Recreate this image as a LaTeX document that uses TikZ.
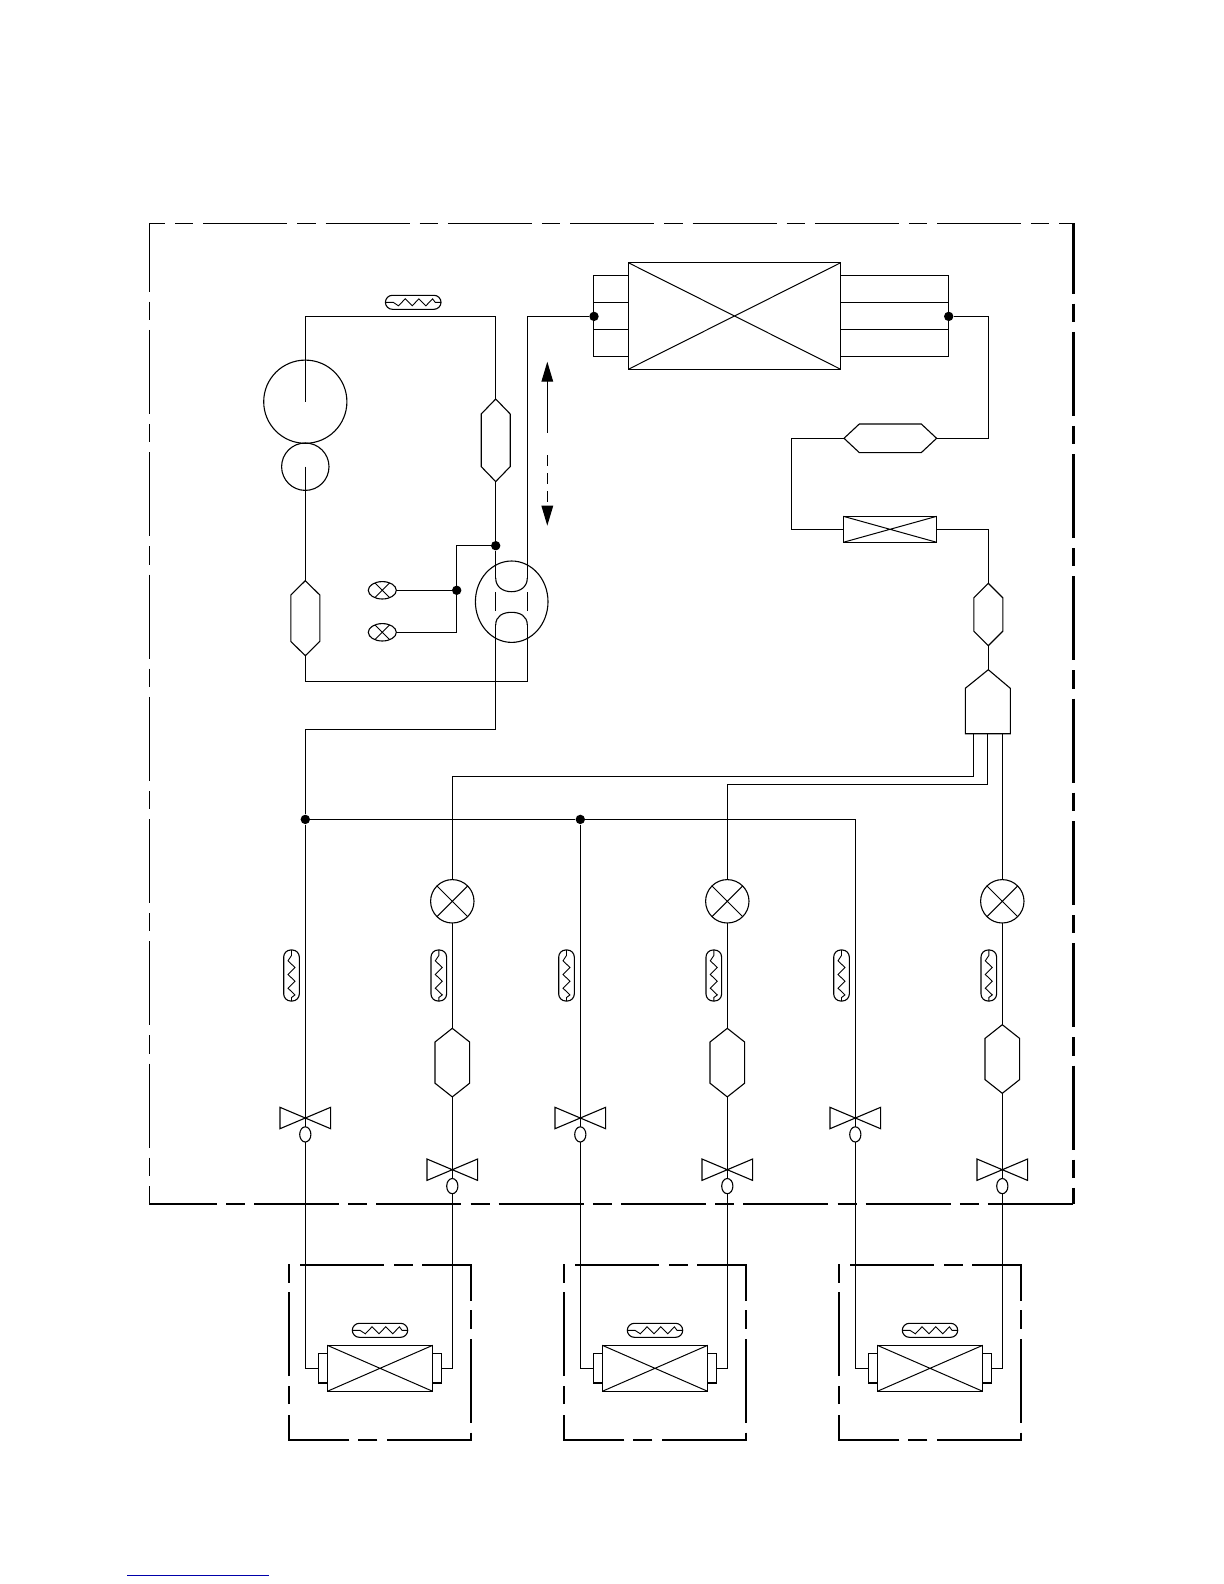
\documentclass[tikz,border=0pt]{standalone}
\usetikzlibrary{arrows.meta,shapes.geometric}
\tikzset{
  pipe/.style={line width=.55pt,line join=miter},
  frm/.style={line width=#1,dash pattern=on 42pt off 5pt on 9.15pt off 5pt},
  idbox/.style={line width=.85pt},
  dot/.style={circle,fill=black,inner sep=0pt,minimum size=4.7pt},
  roundc/.style={draw,circle,pipe,inner sep=0pt,outer sep=0pt,minimum size=#1},
  ell/.style 2 args={draw,ellipse,pipe,inner sep=0pt,outer sep=0pt,minimum width=#1,minimum height=#2},
  box/.style 2 args={draw,rectangle,pipe,inner sep=0pt,outer sep=0pt,minimum width=#1,minimum height=#2},
  pics/hexa/.style n args={3}{code={
    \draw[pipe] (0,-#1) coordinate (-top) -- (#3,-#1+#2) -- (#3,#1-#2) -- (0,#1) coordinate (-bot)
      -- (-#3,#1-#2) -- (-#3,-#1+#2) -- cycle;
  }},
  pics/sensor/.style 2 args={code={
    \draw[pipe,rounded corners=3.5pt] (-#1,-#2) rectangle (#1,#2);
    \draw[line width=.45pt] (-#1,0) -- (-20,0) -- (-14.7,3.5) -- (-8,-3.5) -- (-1,3.5) -- (5.7,-3.5)
      -- (12.7,3.5) -- (19.4,-3.5) -- (22,0) -- (#1,0);
  }},
  pics/stopvalve/.style={code={
    \draw[pipe] (0,0) -- (-25.3,-10.7) -- (-25.3,10.7) -- cycle;
    \draw[pipe] (0,0) -- (25.3,-10.7) -- (25.3,10.7) -- cycle;
    \node[ell={5.6pt}{7.6pt}] (-e) at (0,16.4) {};
  }},
}
\begin{document}
\begin{tikzpicture}[x=.5pt,y=-.5pt]
\useasboundingbox (0,0) rectangle (1224,1584);

% outdoor frame
\coordinate (fTL) at (149.3,223.3);
\coordinate (fTR) at (1073.5,223.3);
\coordinate (fBL) at (149.3,1204);
\coordinate (fBR) at (1073.5,1204);
\draw[frm=.65pt,dash phase=34.15pt] (fTL) -- (fTR);
\draw[frm=.65pt,dash phase=7.85pt] (fTL) -- (fBL);
\draw[frm=1.05pt,dash phase=6.9pt] (fTR) -- (fBR);
\draw[line width=1.05pt,dash pattern=on 42.5pt off 4.65pt on 9.5pt off 4.5pt,dash phase=8.8pt] (fBL) -- (fBR);

% compressor
\node[roundc=41.6pt] (cb) at (305.3,401.7) {};
\node[roundc=23.7pt] (cs) at (305.3,466.7) {};
\pic (hl) at (305.3,618.2) {hexa={37.5}{14.3}{14.5}};
\pic (hr) at (495.7,440.3) {hexa={41.3}{15}{14.5}};
\pic at (413.2,302.3) {sensor={27.8}{7}};
\coordinate (tl) at (305.3,316.4);
\coordinate (tr) at (495.7,316.4);
\draw[pipe] (cb.center) -- (tl) -- (tr) -- (hr-top);
\draw[pipe] (cs.center) -- (hl-top);

% four-way valve
\node[ell={36.3pt}{40.7pt}] (fw) at (511.7,601.7) {};
\coordinate (fa) at (495.7,578);
\coordinate (fb) at (527.3,578);
\coordinate (fc) at (495.7,625);
\coordinate (fd) at (527.3,625);
\draw[pipe] (fa) .. controls (495.7,587) and (503,591.7) .. (511.5,591.7) .. controls (520,591.7) and (527.3,587) .. (fb);
\draw[pipe] (fc) .. controls (495.7,616) and (503,612.3) .. (511.5,612.3) .. controls (520,612.3) and (527.3,616) .. (fd);
\draw[pipe] (495.7,592.3) -- (495.7,610.7) (527.3,592.3) -- (527.3,610.7);

\node[dot] (ja) at (495.7,545.7) {};
\node[dot] (jb) at (456.7,590.3) {};
\coordinate (jc) at (456.7,545.7);
\coordinate (jd) at (456.7,632.3);
\node[ell={14pt}{8.7pt}] (s1) at (382.3,590.3) {};
\node[ell={14pt}{8.7pt}] (s2) at (382.3,632.3) {};
\draw[line width=.45pt] (s1.45) -- (s1.225) (s1.135) -- (s1.315) (s2.45) -- (s2.225) (s2.135) -- (s2.315);
\draw[pipe] (hr-bot) -- (ja) -- (fa);
\draw[pipe] (ja) -- (jc) -- (jd) -- (s2);
\draw[pipe] (jb) -- (s1);

\coordinate (ba) at (305.3,681.3);
\coordinate (bb) at (527.3,681.3);
\draw[pipe] (hl-bot) -- (ba) -- (bb) -- (fd);
\coordinate (ga) at (495.7,729.3);
\coordinate (gb) at (305.3,729.3);
\node[dot] (g1) at (305.3,819.4) {};
\node[dot] (g2) at (580.3,819.4) {};
\coordinate (g3) at (855.3,819.4);
\draw[pipe] (fc) -- (ga) -- (gb) -- (g1) -- (g2) -- (g3);

% condenser
\node[box={106.2pt}{53.3pt}] (cond) at (734.5,316) {};
\draw[line width=.5pt] (cond.north west) -- (cond.south east) (cond.south west) -- (cond.north east);
\node[dot] (cl) at (594,316.4) {};
\node[dot] (cr) at (948.7,316.4) {};
\coordinate (up) at (527.3,316.4);
\draw[pipe] (fb) -- (up) -- (cl);
\draw[pipe] (628.3,275.3) -- (593.7,275.3) -- (593.7,356.3) -- (628.3,356.3);
\draw[pipe] (593.7,302.3) -- (628.3,302.3) (593.7,329.3) -- (628.3,329.3);
\draw[pipe] (840.7,275.3) -- (948.7,275.3) -- (948.7,356.3) -- (840.7,356.3);
\draw[pipe] (840.7,302.3) -- (948.7,302.3) (840.7,329.3) -- (948.7,329.3);

% liquid line
\pic[rotate=90] (hh) at (890.3,438.3) {hexa={46.3}{15.3}{14.3}};
\node[box={46.7pt}{13pt}] (filt) at (890,529.3) {};
\draw[line width=.5pt] (filt.north west) -- (filt.south east) (filt.south west) -- (filt.north east);
\pic (hv) at (988.3,614.5) {hexa={31.2}{14.5}{14.5}};
\coordinate (r1) at (988.3,316.4);
\coordinate (r2) at (988.3,438.3);
\coordinate (l1) at (791.3,438.3);
\coordinate (l2) at (791.3,529.3);
\coordinate (r3) at (988.3,529.3);
\draw[pipe] (cr) -- (r1) -- (r2) -- (hh-bot);
\draw[pipe] (hh-top) -- (l1) -- (l2) -- (filt);
\draw[pipe] (filt) -- (r3) -- (hv-top);

% distributor
\coordinate (dt) at (988.3,669.7);
\draw[pipe] (dt) -- (1010.3,688.3) -- (1010.3,733.7) -- (965.3,733.7) -- (965.3,688.3) -- cycle;
\draw[pipe] (hv-bot) -- (dt);
\coordinate (d1) at (973.3,733.7);
\coordinate (d2) at (987.7,733.7);
\coordinate (d3) at (1002.3,733.7);
\coordinate (d1a) at (973.3,776.3);
\coordinate (d2a) at (987.7,784.3);
\coordinate (c1) at (452.3,776.3);
\coordinate (c2) at (727.3,784.3);
\coordinate (c3) at (1002.3,733.7);
\draw[pipe] (d1) -- (d1a) -- (c1);
\draw[pipe] (d2) -- (d2a) -- (c2);

% columns and indoor units
\foreach \i/\d/\hy/\gt in {1/0/1062.6/g1,2/275/1062.6/g2,3/550/1059/g3}{
\begin{scope}[shift={(\d,0)}]
  % gas column
  \pic[rotate=-90] at (291.5,975.5) {sensor={25.5}{7.8}};
  \pic (gv\i) at (305.3,1118) {stopvalve};
  % liquid column
  \node[roundc=21.7pt] (ev\i) at (452.3,901.3) {};
  \draw[line width=.5pt] (ev\i.45) -- (ev\i.225) (ev\i.135) -- (ev\i.315);
  \pic[rotate=-90] at (438.8,975.5) {sensor={25.5}{7.8}};
  \pic (lh\i) at (452.3,\hy) {hexa={34.3}{13.7}{17.3}};
  \pic (lv\i) at (452.3,1169.7) {stopvalve};
  % indoor unit
  \node[box={52.7pt}{23pt}] (ic\i) at (380,1368.3) {};
  \draw[line width=.5pt] (ic\i.north west) -- (ic\i.south east) (ic\i.south west) -- (ic\i.north east);
  \node[box={4.5pt}{14.7pt},anchor=east] (il\i) at (ic\i.west) {};
  \node[box={4.5pt}{14.7pt},anchor=west] (ir\i) at (ic\i.east) {};
  \pic at (380,1330.3) {sensor={27.7}{7}};
  \coordinate (gb\i) at (305.3,1368.3);
  \coordinate (lb\i) at (452.3,1368.3);
  \draw[pipe] (gv\i-e) -- (gb\i) -- (il\i);
  \draw[pipe] (lv\i-e) -- (lb\i) -- (ir\i);
  \draw[idbox] (300,1264.7) -- (384,1264.7) (394,1264.7) -- (413.3,1264.7)
    (422.3,1264.7) -- (471,1264.7) -- (471,1301) (471,1310) -- (471,1329)
    (471,1339) -- (471,1422.7) (471,1432.7) -- (471,1440) -- (386.7,1440)
    (377.3,1440) -- (358.3,1440) (349.3,1440) -- (289,1440) -- (289,1415)
    (289,1404) -- (289,1385.7) (289,1376) -- (289,1291.7) (289,1282.7) -- (289,1264);
\end{scope}
\draw[pipe] (\gt) -- (gv\i-e);
\draw[pipe] (ev\i) -- (lh\i-top);
\draw[pipe] (lh\i-bot) -- (lv\i-e);
}
\draw[pipe] (c1) -- (ev1);
\draw[pipe] (c2) -- (ev2);
\draw[pipe] (c3) -- (ev3);

% direction arrows
\coordinate (a1s) at (547.3,432.7);
\coordinate (a1e) at (547.3,361.7);
\coordinate (a2s) at (547.3,455);
\coordinate (a2e) at (547.3,525.7);
\draw[pipe,-{Triangle[length=10pt,width=5.8pt]}] (a1s) -- (a1e);
\draw[pipe,dash pattern=on 5.5pt off 3.5pt,-{Triangle[length=10pt,width=5.8pt]}] (a2s) -- (a2e);

% blue rule
\coordinate (u1) at (127,1575.3);
\coordinate (u2) at (269,1575.3);
\draw[line width=.55pt,color={rgb,255:red,0;green,0;blue,170}] (u1) -- (u2);
\end{tikzpicture}
\end{document}
